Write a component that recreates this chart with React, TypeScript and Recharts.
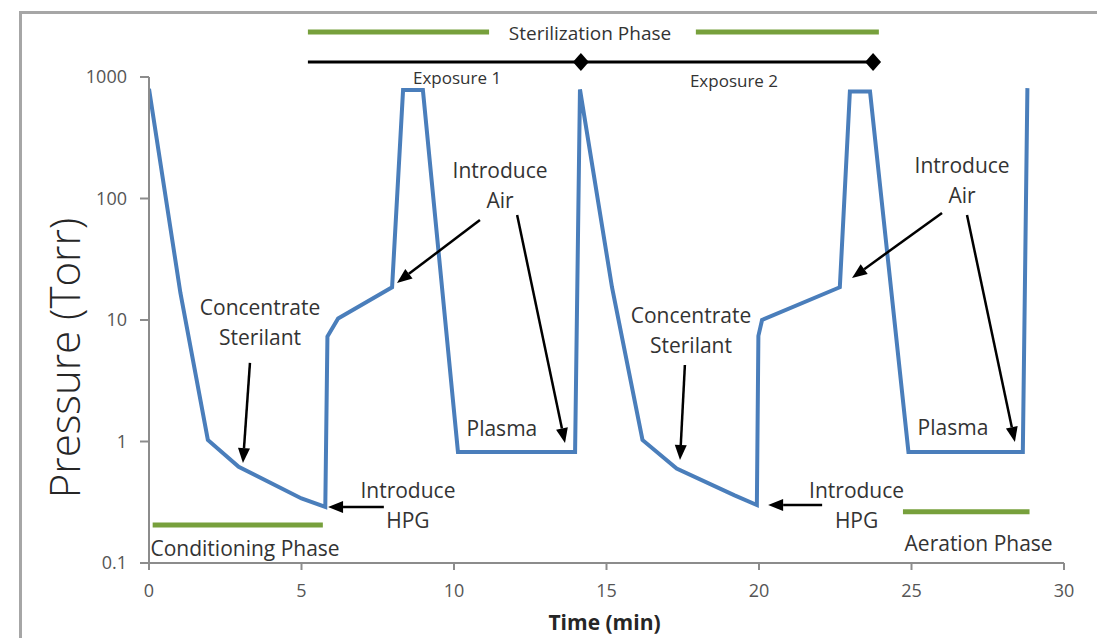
import React from "react";
import { LineChart, Line, XAxis, YAxis, ReferenceLine, ReferenceDot } from "recharts";

// pressure trace (minutes, Torr)
const time = [0, 1.03, 1.93, 2.94, 5.0, 5.78, 5.85, 6.2, 7.97, 8.33, 8.98, 10.13, 13.97, 14.13, 15.18, 16.18, 17.3, 19.2, 19.93, 19.98, 20.1, 22.65, 22.98, 23.64, 24.9, 28.65, 28.8];
const pressure = [800, 16.7, 1.03, 0.62, 0.34, 0.29, 7.3, 10.3, 18.6, 780, 780, 0.82, 0.82, 790, 18.6, 1.03, 0.6, 0.36, 0.3, 7.4, 10, 18.6, 760, 760, 0.82, 0.82, 810];

const xTicks = [0, 5, 10, 15, 20, 25, 30];
const yTicks = [0.1, 1, 10, 100, 1000];

// phase bars (green), in data units
const phaseBars = [
  { x1: 0.12, x2: 5.7, y: 0.205 },
  { x1: 5.21, x2: 11.15, y: 2350 },
  { x1: 17.93, x2: 23.93, y: 2350 },
  { x1: 24.72, x2: 28.87, y: 0.264 },
];
const exposureSpan = { x1: 5.21, x2: 23.74, y: 1330 };
const exposureEnds = [14.16, 23.74];

const notes = [
  { x: 14.46, y: 2300, size: 19, lines: ["Sterilization Phase"] },
  { x: 10.1, y: 1000, size: 17, lines: ["Exposure 1"] },
  { x: 19.18, y: 945, size: 17, lines: ["Exposure 2"] },
  { x: 11.51, y: 172, size: 21, lines: ["Introduce", "Air"] },
  { x: 3.64, y: 12.8, size: 21, lines: ["Concentrate", "Sterilant"] },
  { x: 11.57, y: 1.29, size: 21, lines: ["Plasma"] },
  { x: 8.49, y: 0.399, size: 21, lines: ["Introduce", "HPG"] },
  { x: 3.15, y: 0.133, size: 21, lines: ["Conditioning Phase"] },
  { x: 17.77, y: 11.0, size: 21, lines: ["Concentrate", "Sterilant"] },
  { x: 26.66, y: 189, size: 21, lines: ["Introduce", "Air"] },
  { x: 26.36, y: 1.31, size: 21, lines: ["Plasma"] },
  { x: 23.2, y: 0.399, size: 21, lines: ["Introduce", "HPG"] },
  { x: 27.2, y: 0.146, size: 21, lines: ["Aeration Phase"] },
];

const arrows = [
  { x1: 10.85, y1: 66.5, x2: 8.13, y2: 20.2 },
  { x1: 12.07, y1: 73.1, x2: 13.64, y2: 0.97 },
  { x1: 3.31, y1: 4.43, x2: 3.08, y2: 0.665 },
  { x1: 7.7, y1: 0.289, x2: 5.87, y2: 0.289 },
  { x1: 26.0, y1: 76, x2: 23.05, y2: 22.2 },
  { x1: 26.82, y1: 73.1, x2: 28.39, y2: 0.99 },
  { x1: 17.57, y1: 4.26, x2: 17.41, y2: 0.705 },
  { x1: 22.07, y1: 0.3, x2: 20.3, y2: 0.3 },
];

const data = time.map((t, i) => ({ t, p: pressure[i] }));

const FONT = "'Open Sans', 'Noto Sans', sans-serif";
const TEXT = "#333333";

const Arrow = (props: any) => {
  const { x1, y1, x2, y2 } = props;
  const a = Math.atan2(y2 - y1, x2 - x1);
  const len = 15;
  const half = 6;
  const bx = x2 - len * Math.cos(a);
  const by = y2 - len * Math.sin(a);
  const pts = [
    [x2, y2],
    [bx + half * Math.sin(a), by - half * Math.cos(a)],
    [bx - half * Math.sin(a), by + half * Math.cos(a)],
  ]
    .map((q) => q.join(","))
    .join(" ");
  return (
    <g>
      <line x1={x1} y1={y1} x2={bx} y2={by} stroke="#000" strokeWidth={2.5} />
      <polygon points={pts} fill="#000" />
    </g>
  );
};

const Diamond = (props: any) => {
  const { cx, cy } = props;
  return <polygon points={`${cx},${cy - 9} ${cx + 8},${cy} ${cx},${cy + 9} ${cx - 8},${cy}`} fill="#000" />;
};

const noteShape = (lines: string[], size: number) => (props: any) => {
  const { cx, cy } = props;
  return (
    <text x={cx} y={cy} fill={TEXT} fontSize={size} fontFamily={FONT} textAnchor="middle" dominantBaseline="central">
      {lines.map((l, i) => (
        <tspan key={i} x={cx} dy={i === 0 ? 0 : 30}>
          {l}
        </tspan>
      ))}
    </text>
  );
};

export default function App() {
  return (
    <div style={{ position: "absolute", left: 0, top: 0, width: 1097, height: 638, background: "#fff", overflow: "hidden", fontFamily: FONT }}>
      <div
        style={{
          position: "absolute",
          left: 19,
          top: 11,
          width: 1100,
          height: 624,
          borderLeft: "3px solid #a6a6a6",
          borderTop: "3px solid #a6a6a6",
          borderBottom: "2px solid #d4d4d4",
        }}
      />
      <div style={{ position: "absolute", left: 0, top: 0 }}>
        <LineChart width={1097} height={638} data={data} margin={{ top: 77, right: 33, bottom: 45, left: 89 }}>
          <XAxis
            dataKey="t"
            type="number"
            domain={[0, 30]}
            ticks={xTicks}
            allowDataOverflow
            height={30}
            stroke="#8c8c8c"
            strokeWidth={2}
            tickSize={7}
            tickMargin={14}
            tick={{ fill: "#555555", fontSize: 18, fontFamily: FONT }}
            label={{
              content: (p: any) => (
                <text
                  x={p.viewBox.x + p.viewBox.width / 2 - 2}
                  y={p.viewBox.y + 59}
                  textAnchor="middle"
                  dominantBaseline="central"
                  fontSize={21}
                  fontWeight={700}
                  fill="#262626"
                  fontFamily={FONT}
                >
                  Time (min)
                </text>
              ),
            }}
          />
          <YAxis
            type="number"
            scale="log"
            domain={[0.1, 1000]}
            ticks={yTicks}
            allowDataOverflow
            width={60}
            stroke="#8c8c8c"
            strokeWidth={2}
            tickSize={9}
            tickMargin={13}
            tickFormatter={(v: number) => String(v)}
            tick={{ fill: "#555555", fontSize: 18, fontFamily: FONT }}
            label={{
              content: () => {
                const cx = 63;
                const cy = 358;
                return (
                  <text
                    x={cx}
                    y={cy}
                    transform={`rotate(-90 ${cx} ${cy})`}
                    textAnchor="middle"
                    dominantBaseline="central"
                    fontSize={42}
                    fontWeight={300}
                    fill="#262626"
                    fontFamily={FONT}
                  >
                    Pressure (Torr)
                  </text>
                );
              },
            }}
          />
          {phaseBars.map((b, i) => (
            <ReferenceLine
              key={"pb" + i}
              segment={[
                { x: b.x1, y: b.y },
                { x: b.x2, y: b.y },
              ]}
              stroke="#77a03c"
              strokeWidth={5}
              ifOverflow="visible"
            />
          ))}
          <ReferenceLine
            segment={[
              { x: exposureSpan.x1, y: exposureSpan.y },
              { x: exposureSpan.x2, y: exposureSpan.y },
            ]}
            stroke="#000"
            strokeWidth={3}
            ifOverflow="visible"
          />
          {exposureEnds.map((x, i) => (
            <ReferenceDot key={"ed" + i} x={x} y={exposureSpan.y} ifOverflow="visible" shape={Diamond} />
          ))}
          <Line
            type="linear"
            dataKey="p"
            stroke="#4a7ebb"
            strokeWidth={4}
            dot={false}
            activeDot={false}
            isAnimationActive={false}
          />
          {arrows.map((a, i) => (
            <ReferenceLine
              key={"ar" + i}
              segment={[
                { x: a.x1, y: a.y1 },
                { x: a.x2, y: a.y2 },
              ]}
              ifOverflow="visible"
              shape={Arrow}
            />
          ))}
          {notes.map((n, i) => (
            <ReferenceDot key={"nt" + i} x={n.x} y={n.y} ifOverflow="visible" shape={noteShape(n.lines, n.size)} />
          ))}
        </LineChart>
      </div>
    </div>
  );
}
